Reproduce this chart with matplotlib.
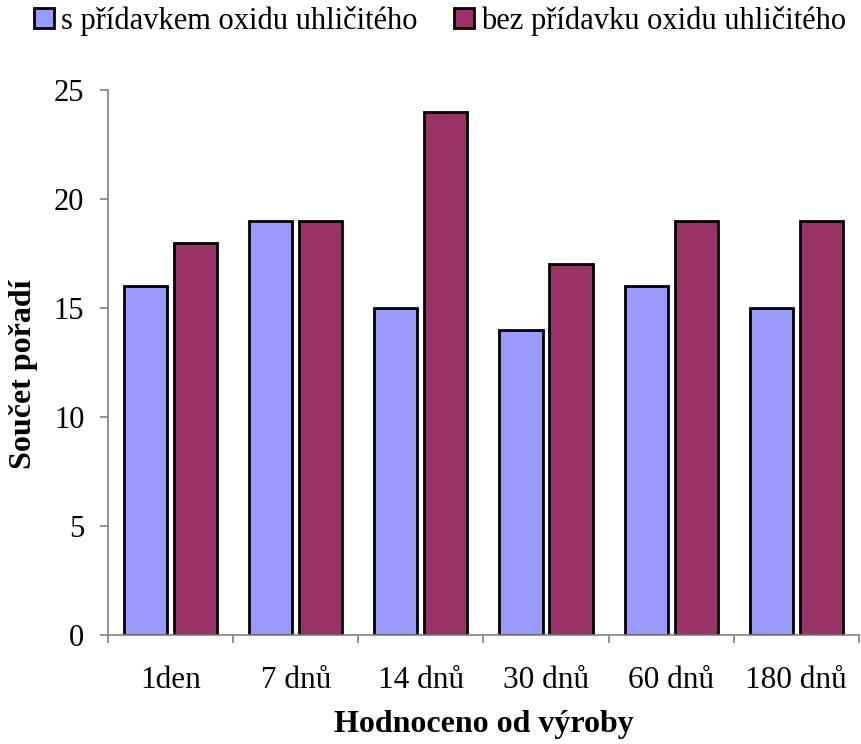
import numpy as np
import matplotlib
matplotlib.use('Agg')
import matplotlib.pyplot as plt

kategorie = ['1den', '7 dnů', '14 dnů', '30 dnů', '60 dnů', '180 dnů']
s_co2 = [16, 19, 15, 14, 16, 15]
bez_co2 = [18, 19, 24, 17, 19, 19]

plt.rcParams['font.family'] = ['Liberation Serif', 'DejaVu Serif']

fig = plt.figure(figsize=(8.61, 7.44), dpi=100)
ax = fig.add_axes([0.1254, 0.1465, 0.8722, 0.7325])

x = np.arange(len(kategorie))
sirka = 0.345
ax.bar(x - 0.2, s_co2, sirka, color='#9999FF', edgecolor='black', linewidth=2,
       label='s přídavkem oxidu uhličitého')
ax.bar(x + 0.2, bez_co2, sirka, color='#993366', edgecolor='black', linewidth=2,
       label='bez přídavku oxidu uhličitého')

ax.set_xlim(-0.5, len(kategorie) - 0.5)
ax.set_ylim(0, 25)
ax.set_yticks(range(0, 26, 5))
ax.set_xticks(x)
ax.set_xticklabels(kategorie)
# dělicí značky mezi kategoriemi
ax.set_xticks(np.arange(-0.5, len(kategorie)), minor=True)
ax.tick_params(axis='x', which='major', length=0, pad=22, labelsize=22.5)
ax.tick_params(axis='x', which='minor', length=6, color='#808080', width=1.2)
ax.tick_params(axis='y', length=6, color='#808080', width=1.2, pad=11, labelsize=22)

for s in ['top', 'right']:
    ax.spines[s].set_visible(False)
for s in ['left', 'bottom']:
    ax.spines[s].set_color('#808080')
    ax.spines[s].set_linewidth(1.2)

ax.set_xlabel('Hodnoceno od výroby', fontsize=23, fontweight='bold', labelpad=11)
ax.set_ylabel('Součet pořadí', fontsize=23, fontweight='bold')
ax.yaxis.set_label_coords(-0.093, 0.479)

fig.legend(loc='upper center', bbox_to_anchor=(0.511, 1.009), ncol=2, frameon=False,
           fontsize=22, handlelength=0.65, handleheight=0.65, handletextpad=0.23,
           columnspacing=1.2, borderaxespad=0)

fig.savefig('out.png', dpi=100)
